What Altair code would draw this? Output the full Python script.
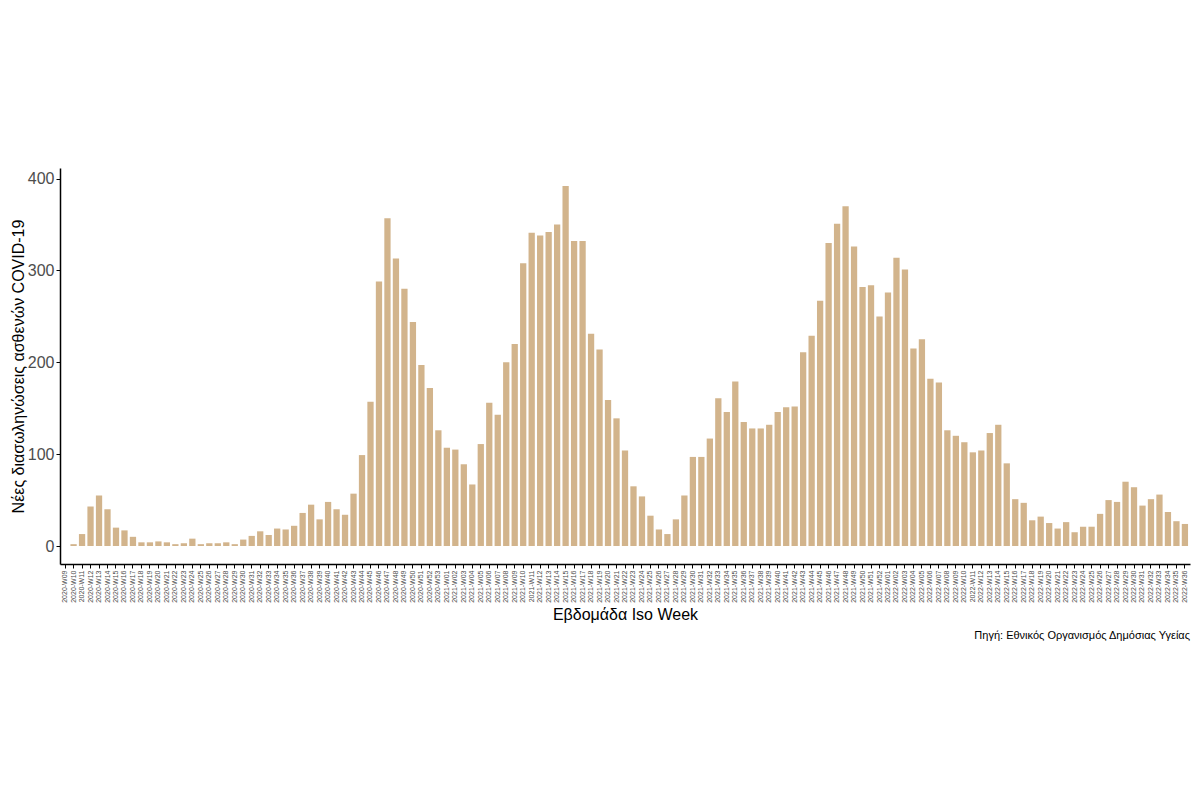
import altair as alt
import pandas as pd

# Weekly new intubations
weeks_2020 = [f"2020-W{w:02d}" for w in range(9, 54)]
weeks_2021 = [f"2021-W{w:02d}" for w in range(1, 53)]
weeks_2022 = [f"2022-W{w:02d}" for w in range(1, 37)]

values_2020 = [
    0, 2, 13, 43, 55, 40, 20, 17, 10, 4, 4, 5, 4, 2, 3, 8, 2, 3, 3, 4, 2,
    7, 11, 16, 12, 19, 18, 22, 36, 45, 29, 48, 40, 34, 57, 99, 157, 288,
    357, 313, 280, 244, 197, 172, 126,
]
values_2021 = [
    107, 105, 89, 67, 111, 156, 143, 200, 220, 308, 341, 338, 342, 350,
    392, 332, 332, 231, 214, 159, 139, 104, 65, 54, 33, 18, 13, 29, 55, 97,
    97, 117, 161, 146, 179, 135, 128, 128, 132, 146, 151, 152, 211, 229,
    267, 330, 351, 370, 326, 282, 284, 250,
]
values_2022 = [
    276, 314, 301, 215, 225, 182, 178, 126, 120, 113, 102, 104, 123, 132,
    90, 51, 47, 28, 32, 25, 19, 26, 15, 21, 21, 35, 50, 48, 70, 64, 44, 51,
    56, 37, 27, 24,
]

weeks = weeks_2020 + weeks_2021 + weeks_2022
values = values_2020 + values_2021 + values_2022

df = pd.DataFrame({"week": weeks, "cases": values})

font = "Liberation Sans"

chart = (
    alt.Chart(df)
    .mark_bar(color="#D2B48C")
    .encode(
        x=alt.X(
            "week:N",
            sort=weeks,
            title="Εβδομάδα Iso Week",
            scale=alt.Scale(paddingInner=0.26, paddingOuter=0.23),
            axis=alt.Axis(
                labelAngle=270,
                labelFontSize=7,
                labelColor="#4D4D4D",
                labelPadding=2,
                tickSize=4,
                tickColor="black",
                domainColor="black",
                domainWidth=1.5,
                titleFontSize=16,
                titleFontWeight="normal",
                titleColor="black",
                titlePadding=4,
            ),
        ),
        y=alt.Y(
            "cases:Q",
            title="Νέες διασωληνώσεις ασθενών COVID-19",
            scale=alt.Scale(domain=[-19.6, 411.6], nice=False, zero=False),
            axis=alt.Axis(
                values=[0, 100, 200, 300, 400],
                grid=False,
                labelFontSize=16,
                labelColor="#4D4D4D",
                labelPadding=2,
                tickSize=4,
                tickColor="black",
                domainColor="black",
                domainWidth=1.5,
                titleFontSize=16,
                titleFontWeight="normal",
                titleColor="black",
                titlePadding=1,
            ),
        ),
        y2=alt.datum(0),
        tooltip=["week:N", "cases:Q"],
    )
    .properties(
        width=1130,
        height=396,
        autosize=alt.AutoSizeParams(type="none"),
        padding={"left": 52, "top": 160, "right": 2, "bottom": 230},
        title=alt.Title(
            text="Πηγή: Εθνικός Οργανισμός Δημόσιας Υγείας",
            orient="bottom",
            anchor="end",
            fontSize=11,
            fontWeight="normal",
            color="black",
            offset=8,
        ),
    )
    .configure(font=font)
    .configure_view(stroke=None)
)

chart.save("out.html", embed_options={"renderer": "svg", "actions": False})
